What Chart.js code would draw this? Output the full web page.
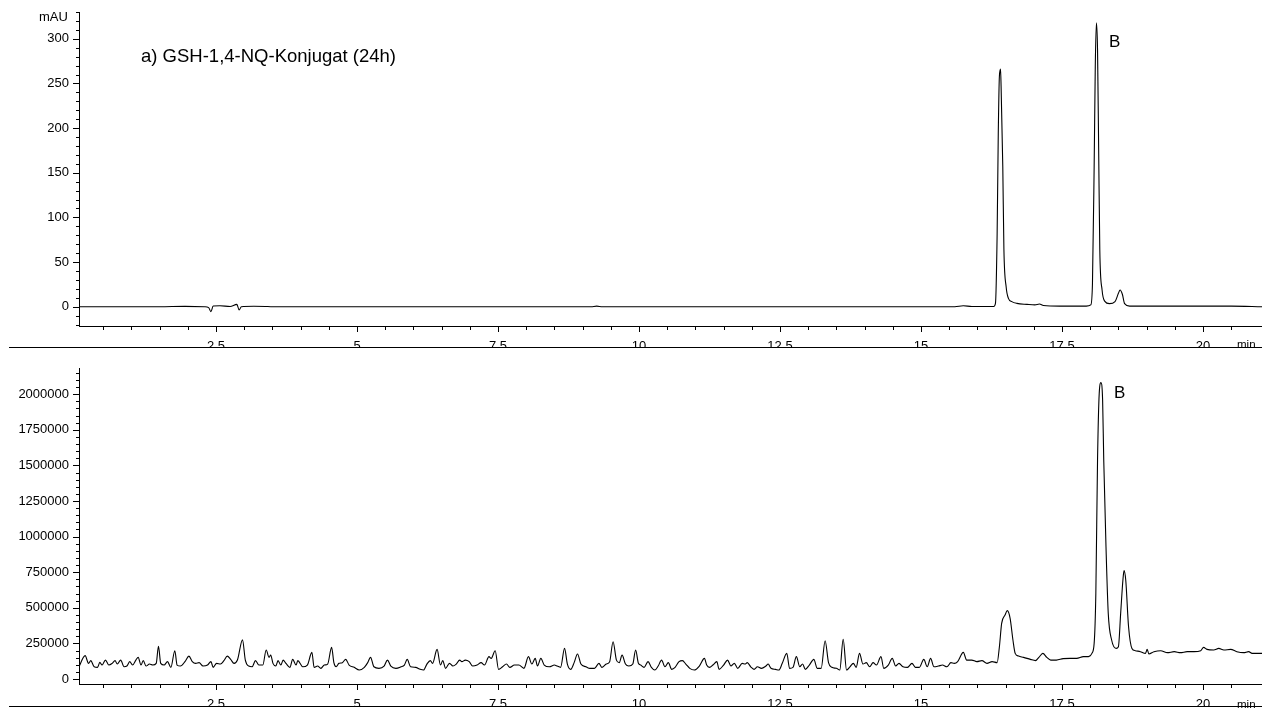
<!DOCTYPE html>
<html>
<head>
<meta charset="utf-8">
<script src="https://cdn.jsdelivr.net/npm/chart.js@4.4.1/dist/chart.umd.min.js"></script>
<style>
html,body{margin:0;padding:0;background:#fff;}
body{width:1262px;height:709px;position:relative;overflow:hidden;font-family:"Liberation Sans",Arial,sans-serif;}
canvas{position:absolute;left:0;}
#c1{top:0;}
#c2{top:348px;}
.txt{position:absolute;white-space:nowrap;line-height:1;color:#000;font-family:"Liberation Sans",Arial,sans-serif;}
.rule{position:absolute;left:9px;width:1253px;height:1px;background:#000;}
.cover{position:absolute;left:0;width:1262px;background:#fff;}
</style>
</head>
<body>
<canvas id="c1" width="1262" height="347"></canvas>
<canvas id="c2" width="1262" height="361"></canvas>
<div class="txt" style="left:39px;top:9.7px;font-size:13px;">mAU</div>
<div class="txt" style="left:141px;top:47.3px;font-size:18.5px;">a) GSH-1,4-NQ-Konjugat (24h)</div>
<div class="txt" style="left:1109px;top:32.6px;font-size:17px;">B</div>
<div class="txt" style="left:1114px;top:383.6px;font-size:17px;">B</div>
<div class="txt" style="left:1237px;top:339px;font-size:11.5px;">min</div>
<div class="cover" style="top:707px;height:2px;"></div>
<div class="txt" style="left:1237px;top:698.5px;font-size:11.5px;">min</div>
<div class="rule" style="top:347px;"></div>
<div class="rule" style="top:706px;"></div>
<script>
// ---------- data ----------
const xMajorLabels = [2.5, 5, 7.5, 10, 12.5, 15, 17.5, 20];

const topTimes  = [0.07, 1.50, 1.95, 2.30, 2.37, 2.41, 2.45, 2.57, 2.75, 2.87, 2.91, 2.95, 3.17, 3.38, 3.47,
  9.15, 9.25, 9.35, 15.60, 15.75, 15.90, 16.29, 16.32, 16.35, 16.37, 16.39, 16.41, 16.42, 16.45, 16.47,
  16.51, 16.55, 16.61, 16.70, 16.88, 17.02, 17.10, 17.17, 17.46, 17.93, 18.01, 18.04, 18.07, 18.09,
  18.11, 18.13, 18.15, 18.17, 18.21, 18.26, 18.34, 18.44, 18.50, 18.53, 18.57, 18.61, 18.70, 20.50, 21.05];
const topValues = [0, 0, 0.4, 0, -1, -5.6, 0.8, 1, 0.3, 2.6, -3.7, 0, 0.5, 0.3, 0,
  0, 0.6, 0, 0, 1, 0.3, 0.3, 3.7, 82, 194, 258, 266, 247, 157, 64,
  22, 9.4, 5.7, 3.7, 2.6, 2, 3, 1.3, 0.6, 0.6, 2, 26, 157, 269,
  318, 288, 176, 64, 19, 6, 3.4, 5.7, 15, 18.7, 14, 3.4, 0.7, 0.6, 0];

const bottomTimes = [0.07, 0.18, 0.24, 0.28, 0.34, 0.40, 0.44, 0.48, 0.54, 0.60, 0.66, 0.71, 0.75, 0.81, 0.87,
  0.92, 0.97, 1.02, 1.08, 1.12, 1.17, 1.21, 1.26, 1.32, 1.38, 1.44, 1.48, 1.52, 1.58, 1.64, 1.70, 1.77,
  1.81, 1.87, 1.95, 2.02, 2.08, 2.14, 2.20, 2.27, 2.35, 2.41, 2.45, 2.51, 2.58, 2.64, 2.70, 2.76, 2.82,
  2.88, 2.97, 3.02, 3.08, 3.14, 3.20, 3.26, 3.33, 3.39, 3.44, 3.47, 3.51, 3.56, 3.60, 3.65, 3.69, 3.74,
  3.81, 3.86, 3.92, 3.95, 4.04, 4.12, 4.20, 4.24, 4.30, 4.36, 4.42, 4.48, 4.55, 4.59, 4.63, 4.68, 4.74,
  4.80, 4.86, 4.95, 5.04, 5.13, 5.19, 5.24, 5.30, 5.39, 5.48, 5.54, 5.60, 5.69, 5.78, 5.84, 5.89, 5.95,
  6.04, 6.12, 6.18, 6.24, 6.30, 6.34, 6.42, 6.48, 6.52, 6.57, 6.64, 6.70, 6.76, 6.82, 6.86, 6.92, 6.99,
  7.05, 7.13, 7.20, 7.26, 7.34, 7.38, 7.45, 7.51, 7.58, 7.65, 7.71, 7.79, 7.87, 7.96, 8.04, 8.10, 8.16,
  8.20, 8.26, 8.32, 8.41, 8.50, 8.55, 8.61, 8.68, 8.73, 8.79, 8.85, 8.91, 8.97, 9.06, 9.13, 9.21, 9.29,
  9.34, 9.42, 9.48, 9.54, 9.60, 9.65, 9.70, 9.76, 9.82, 9.89, 9.94, 9.99, 10.03, 10.09, 10.16, 10.22,
  10.28, 10.34, 10.40, 10.46, 10.52, 10.58, 10.64, 10.71, 10.77, 10.83, 10.90, 10.98, 11.07, 11.16,
  11.20, 11.25, 11.31, 11.38, 11.42, 11.50, 11.57, 11.63, 11.69, 11.75, 11.83, 11.88, 11.92, 11.98,
  12.04, 12.10, 12.17, 12.25, 12.29, 12.34, 12.42, 12.48, 12.54, 12.62, 12.67, 12.73, 12.79, 12.85,
  12.90, 12.95, 13.02, 13.10, 13.16, 13.23, 13.30, 13.36, 13.42, 13.50, 13.56, 13.62, 13.68, 13.74,
  13.80, 13.85, 13.91, 13.97, 14.03, 14.09, 14.15, 14.21, 14.29, 14.34, 14.42, 14.49, 14.55, 14.61,
  14.68, 14.76, 14.84, 14.90, 14.97, 15.05, 15.11, 15.17, 15.23, 15.31, 15.38, 15.46, 15.53, 15.59,
  15.65, 15.75, 15.81, 15.90, 15.99, 16.08, 16.17, 16.26, 16.35, 16.39, 16.43, 16.49, 16.53, 16.58,
  16.63, 16.67, 16.73, 16.82, 16.94, 17.03, 17.09, 17.16, 17.23, 17.30, 17.40, 17.52, 17.64, 17.76,
  17.88, 17.97, 18.03, 18.07, 18.10, 18.13, 18.16, 18.19, 18.22, 18.24, 18.28, 18.32, 18.38, 18.46,
  18.50, 18.54, 18.58, 18.60, 18.63, 18.68, 18.74, 18.80, 18.89, 18.98, 19.01, 19.04, 19.13, 19.25,
  19.37, 19.49, 19.60, 19.72, 19.84, 19.96, 20.01, 20.07, 20.19, 20.28, 20.37, 20.49, 20.60, 20.72,
  20.81, 20.87, 21.05];
const bottomValues = [86000, 164000, 110000, 129000, 86000, 82000, 117000, 98000, 133000, 98000, 110000, 129000, 105000, 133000, 86000,
  91000, 122000, 98000, 133000, 152000, 98000, 129000, 91000, 105000, 98000, 110000, 230000, 110000, 98000, 122000, 82000, 199000,
  98000, 91000, 122000, 161000, 122000, 110000, 115000, 91000, 98000, 122000, 82000, 110000, 105000, 129000, 161000, 138000, 110000,
  133000, 275000, 133000, 91000, 86000, 129000, 98000, 98000, 204000, 152000, 168000, 110000, 91000, 129000, 98000, 133000, 110000,
  82000, 138000, 98000, 129000, 86000, 98000, 187000, 82000, 91000, 75000, 98000, 105000, 222000, 115000, 86000, 110000, 115000,
  138000, 98000, 82000, 63000, 82000, 115000, 152000, 86000, 75000, 91000, 133000, 91000, 75000, 86000, 98000, 138000, 86000,
  82000, 68000, 63000, 105000, 129000, 110000, 208000, 98000, 129000, 75000, 110000, 91000, 105000, 133000, 122000, 133000, 122000,
  91000, 98000, 115000, 98000, 157000, 145000, 199000, 68000, 86000, 105000, 82000, 98000, 98000, 75000, 157000, 105000, 145000,
  91000, 145000, 98000, 86000, 98000, 91000, 82000, 215000, 105000, 68000, 115000, 176000, 105000, 86000, 75000, 75000, 110000,
  82000, 105000, 122000, 262000, 133000, 115000, 168000, 105000, 91000, 105000, 204000, 110000, 98000, 82000, 122000, 82000,
  63000, 91000, 133000, 86000, 115000, 68000, 82000, 122000, 129000, 105000, 75000, 63000, 91000, 145000,
  98000, 82000, 98000, 122000, 68000, 98000, 133000, 91000, 110000, 75000, 110000, 105000, 115000, 86000,
  68000, 86000, 75000, 91000, 105000, 75000, 68000, 63000, 110000, 180000, 75000, 82000, 157000, 86000,
  105000, 68000, 98000, 138000, 75000, 75000, 269000, 115000, 82000, 75000, 63000, 279000, 63000, 86000,
  110000, 82000, 180000, 105000, 115000, 86000, 115000, 98000, 157000, 75000, 98000, 145000, 91000, 110000,
  86000, 82000, 110000, 82000, 82000, 138000, 86000, 145000, 86000, 91000, 98000, 86000, 115000, 110000,
  122000, 187000, 133000, 133000, 122000, 129000, 110000, 122000, 115000, 227000, 391000, 449000, 480000, 426000,
  274000, 180000, 161000, 152000, 138000, 129000, 152000, 180000, 152000, 133000, 133000, 143000, 145000, 145000,
  157000, 157000, 180000, 250000, 602000, 1538000, 2006000, 2081000, 1959000, 1538000, 929000, 461000, 274000, 215000,
  227000, 461000, 695000, 761000, 695000, 367000, 215000, 199000, 192000, 180000, 208000, 176000, 192000, 199000,
  185000, 192000, 185000, 192000, 192000, 199000, 222000, 208000, 204000, 215000, 204000, 208000, 192000, 185000,
  192000, 180000, 180000];

// ---------- helpers ----------
Chart.defaults.font.family = '"Liberation Sans", Arial, sans-serif';
Chart.defaults.font.size = 13;
Chart.defaults.color = '#000';

function isMult(v, step) {
  const r = v / step;
  return Math.abs(r - Math.round(r)) < 1e-9;
}
function stepTicks(min, max, step) {
  const out = [];
  const start = Math.ceil(min / step - 1e-9);
  const end = Math.floor(max / step + 1e-9);
  for (let i = start; i <= end; i++) out.push({value: i * step});
  return out;
}

const tickMarks = {
  id: 'tickMarks',
  afterDraw(chart, args, opts) {
    const ctx = chart.ctx, ca = chart.chartArea;
    const xs = chart.scales.x, ys = chart.scales.y;
    ctx.save();
    ctx.strokeStyle = '#000';
    ctx.lineWidth = 1;
    ctx.beginPath();
    xs.ticks.forEach(t => {
      const px = Math.round(xs.getPixelForValue(t.value)) + 0.5;
      const len = xMajorLabels.some(m => Math.abs(m - t.value) < 1e-9) ? 6 : 4;
      ctx.moveTo(px, ca.bottom);
      ctx.lineTo(px, ca.bottom + len);
    });
    ys.ticks.forEach(t => {
      const py = Math.round(ys.getPixelForValue(t.value)) + 0.5;
      const len = isMult(t.value, opts.yMajor) ? 6 : 3;
      ctx.moveTo(ca.left - len, py);
      ctx.lineTo(ca.left, py);
    });
    ctx.stroke();
    ctx.restore();
  }
};

function makeChart(id, times, values, cfg) {
  const pts = times.map((t, i) => ({x: t, y: values[i]}));
  return new Chart(document.getElementById(id), {
    type: 'line',
    data: {datasets: [{
      data: pts,
      borderColor: '#000',
      borderWidth: 1.1,
      pointRadius: 0,
      fill: false,
      cubicInterpolationMode: 'monotone'
    }]},
    options: {
      responsive: false,
      animation: false,
      devicePixelRatio: 1,
      events: [],
      layout: {padding: {top: cfg.padTop, left: 0, right: 0, bottom: 0}},
      plugins: {legend: {display: false}, tooltip: {enabled: false}, tickMarks: {yMajor: cfg.yMajor}},
      scales: {
        x: {
          type: 'linear',
          min: 0.071,
          max: 21.046,
          grid: {display: false, drawTicks: false},
          border: {display: true, color: '#000', width: 1},
          afterBuildTicks: s => { s.ticks = stepTicks(0.5, 20.5, 0.5); },
          ticks: {
            autoSkip: false, maxRotation: 0, padding: 13,
            callback: v => xMajorLabels.some(m => Math.abs(m - v) < 1e-9) ? String(v) : ''
          },
          afterFit: s => { s.height = cfg.xHeight; s.paddingLeft = 0; s.paddingRight = 0; }
        },
        y: {
          type: 'linear',
          min: cfg.yMin,
          max: cfg.yMax,
          grid: {display: false, drawTicks: false},
          border: {display: true, color: '#000', width: 1},
          afterBuildTicks: s => { s.ticks = stepTicks(cfg.yMin, cfg.yMax, cfg.yMinor); },
          ticks: {
            autoSkip: false, padding: 10,
            callback: v => isMult(v, cfg.yMajor) ? String(Math.round(v)) : ''
          },
          afterFit: s => { s.width = 79; s.paddingTop = 0; s.paddingBottom = 0; }
        }
      }
    },
    plugins: [tickMarks]
  });
}

makeChart('c1', topTimes, topValues, {padTop: 12, xHeight: 21, yMin: -21.6, yMax: 330, yMinor: 10, yMajor: 50});
makeChart('c2', bottomTimes, bottomValues, {padTop: 20, xHeight: 25, yMin: -35000, yMax: 2184000, yMinor: 50000, yMajor: 250000});
</script>
</body>
</html>
